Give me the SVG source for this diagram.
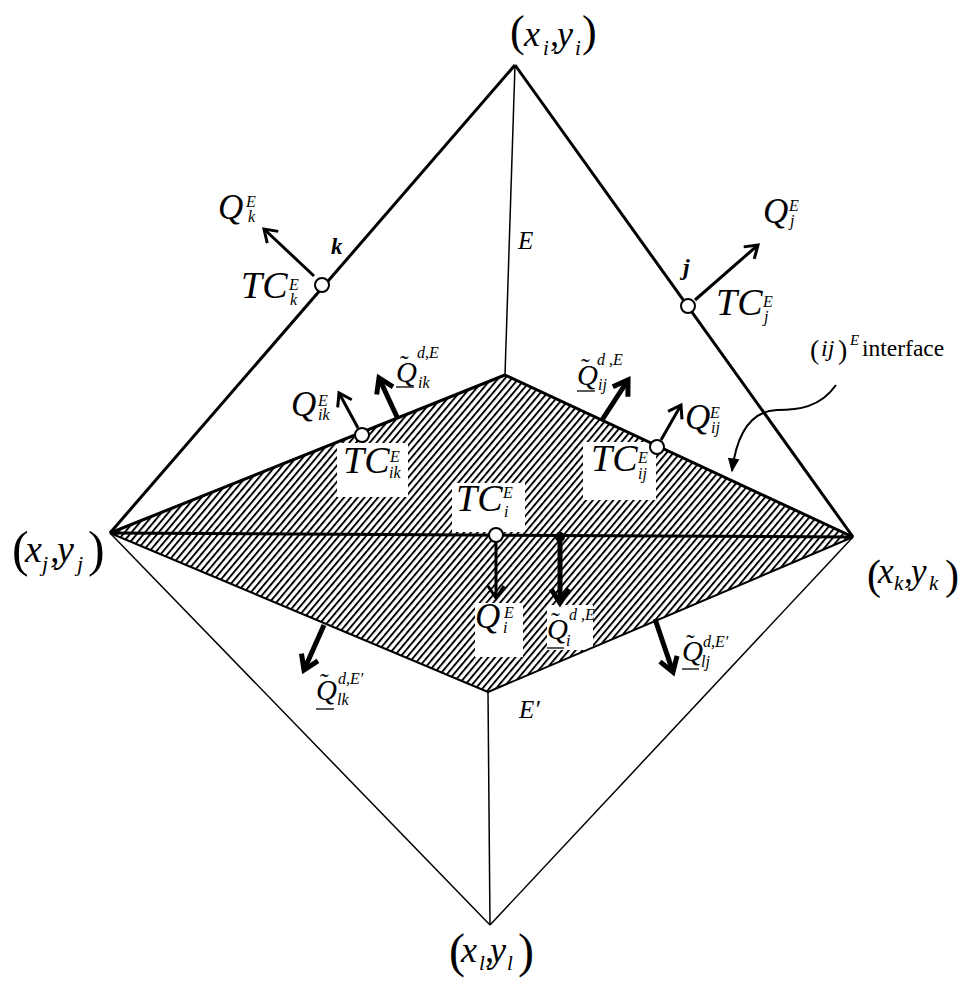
<svg xmlns="http://www.w3.org/2000/svg" width="978" height="994" viewBox="0 0 978 994">
<style>
.it{font-family:"Liberation Serif","Times New Roman",serif;font-style:italic;fill:#000}
.rm{font-family:"Liberation Serif","Times New Roman",serif;fill:#000}
.bi{font-family:"Liberation Serif","Times New Roman",serif;font-style:italic;font-weight:bold;fill:#000}
.Q{font-size:35px}
.Qd{font-size:29px}
.TC{font-size:38px}
.sm{font-size:16px}
.sd{font-size:16px}
.til{font-size:26px}
.thin{stroke:#000;stroke-width:1.5;fill:none}
.thick{stroke:#000;stroke-width:3;fill:none}
.ar{stroke:#000;stroke-width:3;fill:none;marker-end:url(#ah)}
.arT{stroke:#000;stroke-width:5;fill:none;marker-end:url(#ahT)}
.tc{fill:#fff;stroke:#000;stroke-width:2}
.box{fill:#fff}
</style>
<defs>
<pattern id="hatch" patternUnits="userSpaceOnUse" width="5.2" height="10" patternTransform="rotate(40)">
<rect width="5.2" height="10" fill="#fff"/>
<rect width="1.9" height="10" fill="#000"/>
</pattern>
<marker id="ah" markerUnits="userSpaceOnUse" viewBox="-18 -12 22 24" refX="0" refY="0" markerWidth="22" markerHeight="24" orient="auto">
<path d="M-12,-8 L0,0 L-12,8" fill="none" stroke="#000" stroke-width="3"/>
</marker>
<marker id="ahT" markerUnits="userSpaceOnUse" viewBox="-20 -14 26 28" refX="0" refY="0" markerWidth="26" markerHeight="28" orient="auto">
<path d="M-14,-9 L0,0 L-14,9" fill="none" stroke="#000" stroke-width="5"/>
</marker>
<marker id="ahF" markerUnits="userSpaceOnUse" viewBox="-14 -8 16 16" refX="0" refY="0" markerWidth="16" markerHeight="16" orient="auto">
<path d="M-12,-5 L0,0 L-12,5 Z" fill="#000" stroke="#000" stroke-width="1"/>
</marker>
</defs>
<rect width="978" height="994" fill="#fff"/>

<g id="hatched-region">
<polygon points="110,533 505,375 853,537 488,692" fill="url(#hatch)" stroke="none"/>
<rect class="box" x="337" y="443" width="71" height="54"/>
<rect class="box" x="583" y="442" width="73" height="58"/>
<rect class="box" x="452" y="483" width="73" height="49"/>
<rect class="box" x="475" y="603" width="48" height="54"/>
<rect class="box" x="547" y="605" width="46" height="45"/>
</g>

<g id="edges">
<line class="thick" x1="515" y1="65" x2="110" y2="533"/>
<line class="thick" x1="515" y1="65" x2="853" y2="537"/>
<line class="thin" x1="110" y1="533" x2="490" y2="925"/>
<line class="thin" x1="853" y1="537" x2="490" y2="925"/>
<line class="thin" x1="515" y1="65" x2="505" y2="375"/>
<line class="thin" x1="488" y1="692" x2="490" y2="925"/>
<line class="thick" x1="110" y1="533" x2="505" y2="375"/>
<line class="thick" x1="505" y1="375" x2="853" y2="537"/>
<line class="thick" x1="110" y1="533" x2="853" y2="537"/>
<line stroke="#000" stroke-width="2" x1="110" y1="533" x2="488" y2="692"/>
<line stroke="#000" stroke-width="2" x1="488" y1="692" x2="853" y2="537"/>
</g>

<g id="connectors">
<line class="ar" x1="314" y1="276" x2="264" y2="229"/>
<line class="ar" x1="695" y1="300" x2="758" y2="245"/>
<line class="ar" x1="358" y1="428" x2="339" y2="393"/>
<line class="arT" x1="397" y1="417" x2="379" y2="378"/>
<line class="arT" x1="602" y1="420" x2="628" y2="380"/>
<line class="ar" x1="661" y1="440" x2="681" y2="405"/>
<line class="ar" x1="496" y1="541" x2="496" y2="598"/>
<line class="arT" x1="560" y1="538" x2="560" y2="603"/>
<line class="arT" x1="324" y1="625" x2="304" y2="670"/>
<line class="arT" x1="655" y1="619" x2="673" y2="672"/>
<path d="M836,385 C820,408 797,410 777,410 C752,411 737,432 732,471" stroke="#000" stroke-width="2" fill="none" marker-end="url(#ahF)"/>
</g>

<g id="points">
<circle id="TCk" class="tc" cx="322" cy="285" r="7"/>
<circle id="TCj" class="tc" cx="688" cy="306" r="7"/>
<circle id="TCik" class="tc" cx="362" cy="435" r="7"/>
<circle id="TCij" class="tc" cx="657" cy="447" r="7"/>
<circle id="TCi" class="tc" cx="496" cy="535" r="7"/>
<circle id="Qdi-pt" cx="560" cy="537" r="5" fill="#000"/>
</g>

<g id="vertex-labels">
<g id="vi">
<text class="rm" x="510" y="46" font-size="44">(</text>
<text class="it" x="524" y="46" font-size="36">x</text>
<text class="it" x="543" y="55" font-size="21">i</text>
<text class="it" x="550" y="46" font-size="36">,</text>
<text class="it" x="557" y="46" font-size="36">y</text>
<text class="it" x="575" y="55" font-size="21">i</text>
<text class="rm" x="582" y="46" font-size="44">)</text>
</g>
<g id="vj">
<text class="rm" x="12" y="566" font-size="50">(</text>
<text class="it" x="25" y="562" font-size="38">x</text>
<text class="it" x="42" y="571" font-size="22">j</text>
<text class="it" x="50" y="562" font-size="38">,</text>
<text class="it" x="57" y="562" font-size="38">y</text>
<text class="it" x="77" y="571" font-size="22">j</text>
<text class="rm" x="88" y="566" font-size="50">)</text>
</g>
<g id="vk">
<text class="rm" x="867" y="589" font-size="42">(</text>
<text class="it" x="878" y="583" font-size="35">x</text>
<text class="it" x="894" y="590" font-size="21">k</text>
<text class="it" x="904" y="583" font-size="35">,</text>
<text class="it" x="911" y="583" font-size="35">y</text>
<text class="it" x="929" y="590" font-size="21">k</text>
<text class="rm" x="945" y="589" font-size="42">)</text>
</g>
<g id="vl">
<text class="rm" x="449" y="967" font-size="48">(</text>
<text class="it" x="461" y="962" font-size="36">x</text>
<text class="it" x="479" y="970" font-size="21">l</text>
<text class="it" x="485" y="962" font-size="36">,</text>
<text class="it" x="490" y="962" font-size="36">y</text>
<text class="it" x="507" y="970" font-size="21">l</text>
<text class="rm" x="518" y="967" font-size="48">)</text>
</g>
</g>

<g id="labels">
<text class="it" x="518" y="249" font-size="25">E</text>
<text class="it" x="519" y="718" font-size="25">E′</text>
<text class="bi" x="331" y="254" font-size="23">k</text>
<text class="bi" x="683" y="275" font-size="24">j</text>

<g id="Qk"><text class="it Q" x="218" y="219">Q</text><text class="it sm" x="246" y="207">E</text><text class="it sm" x="248" y="222">k</text></g>
<g id="TCkL"><text class="it TC" x="241" y="298">TC</text><text class="it sm" x="289" y="290">E</text><text class="it sm" x="290" y="305">k</text></g>
<g id="Qj"><text class="it Q" x="763" y="223">Q</text><text class="it sm" x="789" y="211">E</text><text class="it sm" x="790" y="226">j</text></g>
<g id="TCjL"><text class="it TC" x="716" y="315">TC</text><text class="it sm" x="763" y="307">E</text><text class="it sm" x="764" y="322">j</text></g>

<g id="Qik"><text class="it Q" x="291" y="416">Q</text><text class="it sm" x="318" y="406">E</text><text class="it sm" x="318" y="420">ik</text></g>
<g id="Qdik"><text class="it Qd" x="396" y="382">Q</text><text class="rm til" x="400" y="373">˜</text><line x1="396" y1="387" x2="414" y2="387" stroke="#000" stroke-width="1.3"/><text class="it sd" x="417" y="358">d,E</text><text class="it sd" x="418" y="388">ik</text></g>
<g id="TCikL"><text class="it TC" x="343" y="473">TC</text><text class="it sm" x="390" y="462">E</text><text class="it sm" x="389" y="478">ik</text></g>

<g id="Qdij"><text class="it Qd" x="577" y="385">Q</text><text class="rm til" x="581" y="376">˜</text><line x1="577" y1="391" x2="595" y2="391" stroke="#000" stroke-width="1.3"/><text class="it sd" x="597" y="365">d ,E</text><text class="it sd" x="598" y="390">ij</text></g>
<g id="Qij"><text class="it Q" x="685" y="429">Q</text><text class="it sm" x="710" y="418">E</text><text class="it sm" x="711" y="433">ij</text></g>
<g id="TCijL"><text class="it TC" x="591" y="471">TC</text><text class="it sm" x="638" y="463">E</text><text class="it sm" x="638" y="479">ij</text></g>

<g id="TCiL"><text class="it TC" x="456" y="511">TC</text><text class="it sm" x="503" y="498">E</text><text class="it sm" x="504" y="517">i</text></g>
<g id="Qi"><text class="it Q" x="475" y="628">Q</text><text class="it sm" x="504" y="618">E</text><text class="it sm" x="503" y="633">i</text></g>
<g id="Qdi"><text class="it Qd" x="547" y="639">Q</text><text class="rm til" x="551" y="630">˜</text><line x1="547" y1="648" x2="564" y2="648" stroke="#000" stroke-width="1.3"/><text class="it sd" x="569" y="620">d ,E</text><text class="it sd" x="566" y="646">i</text></g>

<g id="Qdlk"><text class="it Qd" x="316" y="700">Q</text><text class="rm til" x="320" y="691">˜</text><line x1="316" y1="709" x2="334" y2="709" stroke="#000" stroke-width="1.3"/><text class="it sd" x="338" y="684">d,E′</text><text class="it sd" x="337" y="705">lk</text></g>
<g id="Qdlj"><text class="it Qd" x="682" y="661">Q</text><text class="rm til" x="686" y="652">˜</text><line x1="682" y1="669" x2="699" y2="669" stroke="#000" stroke-width="1.3"/><text class="it sd" x="703" y="647">d,E′</text><text class="it sd" x="701" y="667">lj</text></g>

<g id="interface">
<text class="rm" x="810" y="359" font-size="28">(</text>
<text class="it" x="821" y="356" font-size="24">ij</text>
<text class="rm" x="838" y="359" font-size="28">)</text>
<text class="it" x="850" y="345" font-size="15">E</text>
<text class="rm" x="862" y="356" font-size="23.5">interface</text>
</g>
</g>
</svg>
